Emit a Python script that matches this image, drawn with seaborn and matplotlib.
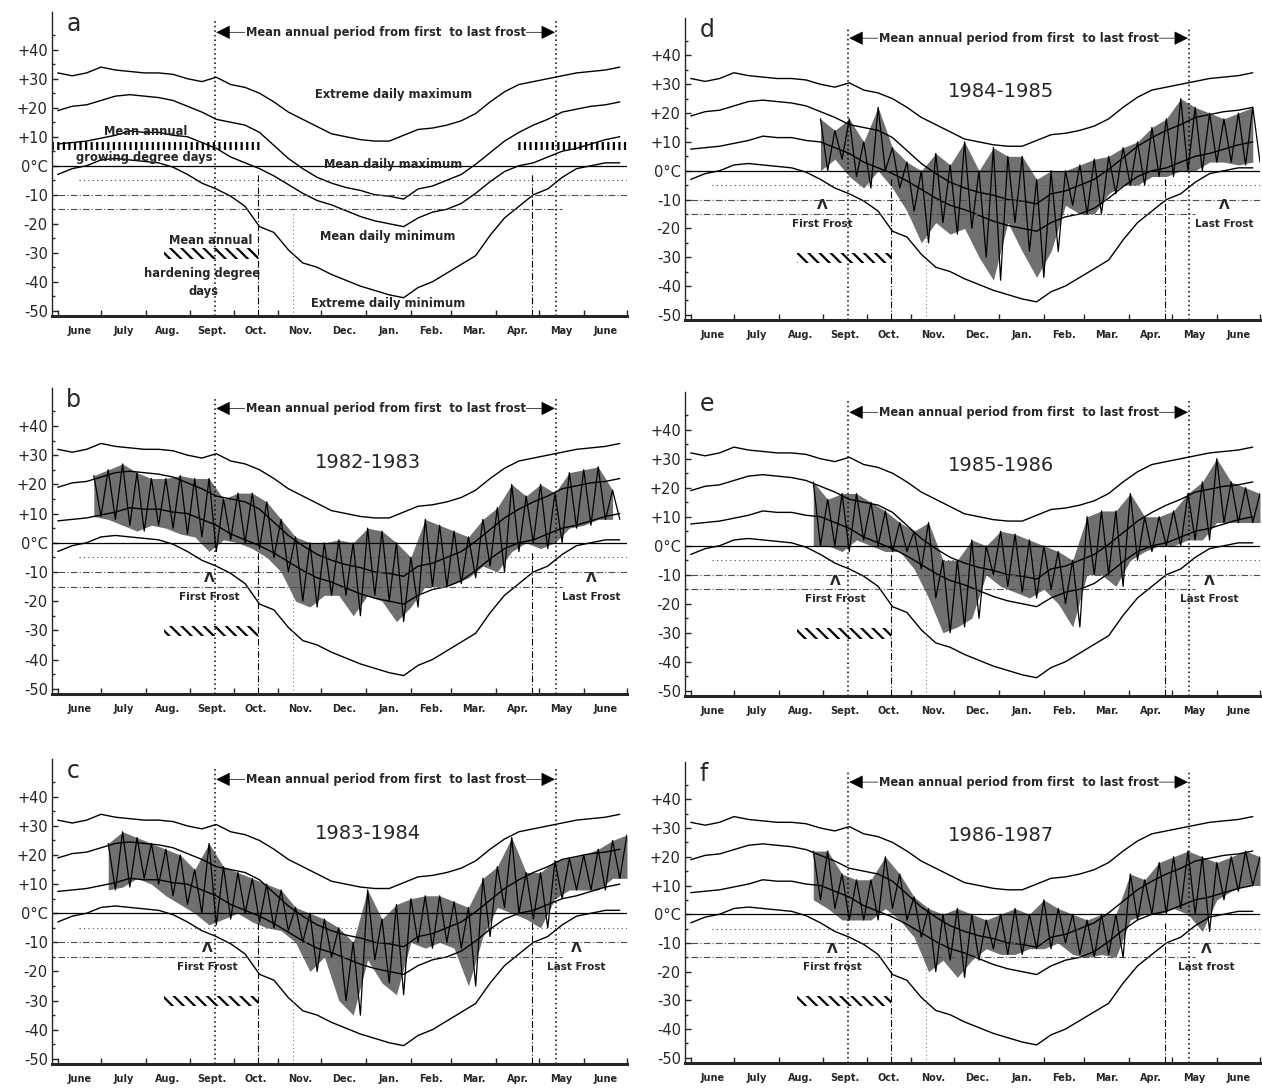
import numpy as np
import pandas as pd
import matplotlib
matplotlib.use("Agg")
import matplotlib.pyplot as plt
import seaborn as sns

sns.set_theme(style="white")
plt.rcParams["font.family"] = ["DejaVu Sans"]
plt.rcParams["hatch.linewidth"] = 1.6

# ============================================
# Data (days counted from 1 June)
# ============================================

days = list(range(0, 400, 10))

ext_max = [32, 31, 32, 34, 33, 32.5, 32, 32, 31.5, 30, 29, 30.5, 28, 27, 25, 22,
           18.5, 16, 13.5, 11, 10, 9, 8.5, 8.5, 10.5, 12.5, 13, 14, 15.5, 18,
           22, 25.5, 28, 29, 30, 31, 32, 32.5, 33, 34]
mean_max = [19, 20.5, 21, 22.5, 24, 24.5, 24, 23.5, 22.5, 20.5, 18.5, 16, 15, 14,
            11.5, 7, 2.5, -1, -4, -6, -7.5, -8.5, -10, -10.5, -11.5, -8, -7, -5,
            -3, 0.5, 4.5, 8.5, 11.5, 14, 16, 18.5, 19.5, 20.5, 21, 22]
mean_min = [7.5, 8, 8.5, 9.5, 10.5, 12, 11.5, 11.5, 10.5, 10, 8, 6, 3, 1, -1, -3.5,
            -6.5, -9.5, -12, -13.5, -15.5, -17.5, -19, -20, -21, -18, -16, -15,
            -13, -9.5, -5.5, -2, 0, 1, 3, 5, 6, 7.5, 9, 10]
ext_min = [-3, -1, 0, 2, 2.5, 2, 1.5, 1, -0.5, -3, -6, -8, -10.5, -14, -21, -23,
           -29, -33.5, -35, -37.5, -39.5, -41.5, -43, -44.5, -45.5, -42, -40, -37,
           -34, -31, -24, -18, -14, -10, -8, -4, -1, 0, 1, 1]

month_starts = [0, 30, 61, 92, 122, 153, 183, 214, 245, 273, 304, 334, 365, 395]
month_names = ["June", "July", "Aug.", "Sept.", "Oct.", "Nov.", "Dec.", "Jan.",
               "Feb.", "Mar.", "Apr.", "May", "June"]
y_ticks = [40, 30, 20, 10, 0, -10, -20, -30, -40, -50]
y_labels = ["+40", "+30", "+20", "+10", "0°C", "-10", "-20", "-30", "-40", "-50"]

frost_first_mean = 109
frost_last_mean = 346
hardening_start = 74
hardening_end = 139
spring_line = 329

# observed daily extremes, one value per 10 days
b_start = 25
b_hi = [23, 25, 27, 24, 22, 22, 23, 22, 22, 15, 17, 17, 14, 8, 2, 0, 0, 1, 0, 5,
        4, 0, -5, 8, 6, 4, 2, 8, 12, 20, 16, 20, 17, 24, 25, 26, 18]
b_lo = [9, 8, 6, 4, 6, 5, 3, 2, -3, 1, 0, -2, -5, -10, -20, -22, -18, -18, -25,
        -18, -20, -27, -22, -15, -15, -14, -12, -8, -10, -3, 0, -2, 0, 5, 6, 8, 8]

c_start = 35
c_hi = [24, 28, 26, 24, 22, 20, 15, 24, 16, 14, 12, 10, 8, 2, 0, -2, -5, -10, 8,
        -2, 3, 5, 6, 6, 4, 2, 12, 16, 26, 14, 14, 18, 19, 20, 22, 25, 27]
c_lo = [8, 9, 12, 10, 6, 3, 0, -4, -2, 0, -3, -5, -6, -10, -20, -15, -30, -35,
        -16, -24, -28, -10, -12, -10, -12, -25, -8, 2, 0, -2, -5, 5, 8, 8, 8, 12, 12]

d_start = 90
d_hi = [18, 14, 18, 10, 22, 8, 3, 0, 6, 2, 10, 0, 8, 5, 5, -3, 0, 0, 2, 4, 5, 8,
        10, 15, 18, 25, 22, 20, 18, 20, 22]
d_lo = [0, 4, -2, -6, 0, -6, -14, -25, -18, -22, -20, -30, -38, -18, -28, -37,
        -28, -12, -15, -15, -8, -5, -5, -2, -2, 0, 0, 3, 3, 2, 3]

e_start = 85
e_hi = [22, 16, 18, 18, 15, 12, 8, 5, 8, -5, -5, 2, 0, 5, 4, 2, 0, -2, -5, 10, 12,
        12, 18, 10, 10, 12, 18, 22, 30, 22, 20, 18]
e_lo = [0, 0, -2, 2, 0, -2, -2, -8, -18, -30, -28, -25, -10, -14, -16, -18, -15,
        -20, -28, -10, -10, -14, -5, -2, 0, 0, 2, 2, 8, 8, 8, 8]

f_start = 85
f_hi = [22, 22, 14, 12, 12, 20, 14, 6, 2, 0, 2, 0, -2, 0, 2, 0, 5, 2, 0, -2, 0, 0,
        14, 12, 18, 20, 22, 20, 18, 20, 22, 20]
f_lo = [5, 2, -2, -2, -2, 2, -2, -8, -20, -16, -22, -16, -12, -14, -14, -12, -12,
        -10, -14, -15, -14, -15, -2, 0, 0, 2, 0, -6, 5, 8, 10, 10]

# ============================================
# Figure layout
# ============================================

W, H = 1262, 1089
fig = plt.figure(figsize=(W / 100, H / 100), dpi=100)


def axes_at(left, top, bottom, width=575):
    return fig.add_axes([left / W, 1 - bottom / H, width / W, (bottom - top) / H])


clim = pd.DataFrame({"day": days, "ext_max": ext_max, "mean_max": mean_max,
                     "mean_min": mean_min, "ext_min": ext_min})


def base_panel(ax, letter):
    ax.set_xlim(-4, 395)
    ax.set_ylim(-51.8, 53)
    for col in ["ext_max", "mean_max", "mean_min", "ext_min"]:
        sns.lineplot(data=clim, x="day", y=col, ax=ax, color="black", lw=1.0)

    # reference lines
    ax.axhline(0, color="black", lw=0.9)
    ax.hlines(-5, 15, 395, color="0.3", lw=0.8, linestyles=(0, (1, 3)))
    ax.hlines(-10, 0, 395, color="0.3", lw=0.8, linestyles=(0, (6, 2, 1, 2)))
    ax.hlines(-15, 0, 350, color="0.3", lw=0.8, linestyles=(0, (6, 2, 1, 2)))
    ax.vlines([frost_first_mean, frost_last_mean], -51.8, 50, color="black",
              lw=1.1, linestyles=(0, (1, 2)))
    ax.vlines([hardening_end, spring_line], -51.8, -3, color="black", lw=0.8,
              linestyles=(0, (6, 2, 1, 2)))
    ax.vlines(163, -51.8, -16, color="0.4", lw=0.7, linestyles=(0, (1, 3)))

    # period arrow
    ax.annotate("", xy=(frost_first_mean + 1, 46), xytext=(frost_last_mean - 1, 46),
                arrowprops=dict(arrowstyle="<|-|>", mutation_scale=22, lw=0.5,
                                color="black", shrinkA=0, shrinkB=0))
    ax.text((frost_first_mean + frost_last_mean) / 2, 46,
            "Mean annual period from first  to last frost", ha="center",
            va="center", fontsize=8.3, fontweight="bold",
            bbox=dict(facecolor="white", edgecolor="none", pad=0.3))

    # hardening degree days bar
    ax.fill_between([hardening_start, hardening_end], -32, -28.5, facecolor="white",
                    edgecolor="black", hatch="\\\\\\", lw=0)

    ax.set_xticks(month_starts)
    ax.set_xticklabels([])
    mids = [(a + b) / 2 for a, b in zip(month_starts[:-1], month_starts[1:])]
    for m, name in zip(mids, month_names):
        ax.text(m, -57, name, ha="center", va="center", fontsize=7,
                fontweight="bold")
    ax.set_yticks(y_ticks)
    ax.set_yticklabels(y_labels, fontsize=10.5)
    ax.set_yticks(range(-50, 50, 5), minor=True)
    ax.tick_params(axis="both", which="major", direction="in", length=4, width=1,
                   pad=3, left=True, bottom=True)
    ax.tick_params(axis="y", which="minor", direction="in", length=2, left=True)
    ax.set_xlabel("")
    ax.set_ylabel("")
    for s in ["top", "right"]:
        ax.spines[s].set_visible(False)
    ax.spines["left"].set_linewidth(1.0)
    ax.spines["bottom"].set_linewidth(2.2)
    ax.text(0.025, 1.0, letter, transform=ax.transAxes, fontsize=17, va="top",
            ha="left")


def observed(ax, start, hi, lo, year, first, last, lower=False):
    d = [start + 10 * i for i in range(len(hi))]
    ax.fill_between(d, lo, hi, color="0.2", alpha=0.7, lw=0)
    zx, zy = [], []
    for di, h, l in zip(d, hi, lo):
        zx += [di, di + 5]
        zy += [h, l]
    ax.plot(zx, zy, color="black", lw=0.9)
    ax.text(215, 27.5, year, ha="center", va="center", fontsize=14)
    ff = "First frost" if lower else "First Frost"
    lf = "Last frost" if lower else "Last Frost"
    for x, t in [(first, ff), (last, lf)]:
        ax.text(x, -12, "Λ", ha="center", va="center", fontsize=10,
                fontweight="bold")
        ax.text(x, -18.5, t, ha="center", va="center", fontsize=7.5,
                fontweight="bold")


# ---- panel a
ax_a = axes_at(52, 12, 316)
base_panel(ax_a, "a")
ax_a.fill_between([-4, 141], 5.3, 8.3, facecolor="white", edgecolor="black",
                  hatch="|||", lw=0)
ax_a.fill_between([319, 395], 5.3, 8.3, facecolor="white", edgecolor="black",
                  hatch="|||", lw=0)
for x, y, t in [(233, 24.5, "Extreme daily maximum"), (233, 0.5, "Mean daily maximum"),
                (229, -24.3, "Mean daily minimum"), (229, -47.5, "Extreme daily minimum"),
                (61, 11.7, "Mean annual"), (60, 2.7, "growing degree days"),
                (106, -25.7, "Mean annual"), (100, -37.3, "hardening degree"),
                (101, -43.2, "days")]:
    ax_a.text(x, y, t, ha="center", va="center", fontsize=8.3, fontweight="bold")

# ---- panel b, c
ax_b = axes_at(52, 388, 694)
base_panel(ax_b, "b")
observed(ax_b, b_start, b_hi, b_lo, "1982-1983", 105, 370)

ax_c = axes_at(52, 759, 1064)
base_panel(ax_c, "c")
observed(ax_c, c_start, c_hi, c_lo, "1983-1984", 104, 360)

# ---- panel d, e, f
ax_d = axes_at(685, 18, 320)
base_panel(ax_d, "d")
observed(ax_d, d_start, d_hi, d_lo, "1984-1985", 91, 370)

ax_e = axes_at(685, 392, 696)
base_panel(ax_e, "e")
observed(ax_e, e_start, e_hi, e_lo, "1985-1986", 100, 360)

ax_f = axes_at(685, 762, 1063)
base_panel(ax_f, "f")
observed(ax_f, f_start, f_hi, f_lo, "1986-1987", 98, 358, lower=True)

plt.savefig("out.png", dpi=100)
plt.close()
